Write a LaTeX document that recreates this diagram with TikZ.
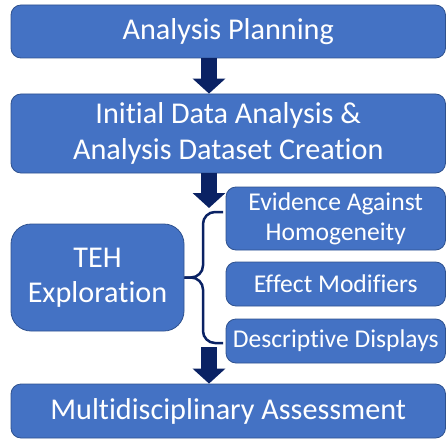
\documentclass[tikz,border=0pt]{standalone}
\usepackage{fontspec}
\setmainfont{Carlito}[Ligatures={NoCommon,NoRare}]
\usepackage{tikz}
\usepackage{xcolor}
\usetikzlibrary{arrows.meta}
\definecolor{boxblue}{HTML}{4472C4}
\definecolor{boxline}{HTML}{2F528F}
\definecolor{navy}{HTML}{0A2264}
\newcommand{\tsep}{t\kern0pt i}
\tikzstyle{box} = [rectangle, rounded corners=10pt, draw=boxline, line width=0.8pt, fill=boxblue, text=white, align=center, inner sep=0pt]
\tikzstyle{big} = [box, font=\fontsize{30.2}{36}\selectfont]
\tikzstyle{small} = [box, font=\fontsize{25.6}{30}\selectfont]

\begin{document}
\begin{tikzpicture}[x=1pt,y=-1pt]
			\tikzset{arr/.style={draw=navy, line width=16pt, -{Triangle[width=32pt,length=15pt]}},
				brace/.style={draw=navy, line width=2.5pt, rounded corners=12pt}}
\useasboundingbox (0,0) rectangle (446,441);

\node[big, minimum width=434.5pt, minimum height=53pt] (plan) at (228.25,31.5) {Analysis Planning};
\node[big, minimum width=434.5pt, minimum height=79pt] (ida) at (228.25,133.5) {Ini\tsep al Data Analysis \&\\Analysis Dataset Crea\tsep on};
\node[small, minimum width=219.5pt, minimum height=63pt] (evid) at (335.75,218.5) {Evidence Against\\Homogeneity};
\node[small, minimum width=219.5pt, minimum height=44pt] (effm) at (335.75,284) {Effect Modifiers};
\node[small, minimum width=219.5pt, minimum height=44pt] (desc) at (335.75,341) {Descrip\tsep ve Displays};
\node[big, rounded corners=20pt, minimum width=173pt, minimum height=107pt, font=\fontsize{30.2}{35}\selectfont] (teh) at (97.5,277.5) {TEH\\Explora\tsep on};
\node[big, minimum width=434.5pt, minimum height=54pt] (mda) at (228.25,411) {Multidisciplinary Assessment};

% arrows down the left column
\coordinate (ax) at (209,0);
\coordinate (a1s) at (plan.south -| ax);
\coordinate (a1e) at (ida.north -| ax);
\coordinate (a2s) at (ida.south -| ax);
\coordinate (a2e) at (209,208);
\coordinate (a3s) at (209,347);
\coordinate (a3e) at (mda.north -| ax);
\foreach \from/\to in {a1s/a1e,a2s/a2e,a3s/a3e}
{
	\draw[arr] (\from) -- (\to);
}

% brace
\coordinate (bx) at (203,0);
\coordinate (b1) at (223,212);
\coordinate (b2) at (223,343);
\draw[brace] (b1) -- (b1 -| bx) -- (teh.east -| bx) -- (teh.east);
\draw[brace] (b2) -- (b2 -| bx) -- (teh.east -| bx) -- (teh.east);

		\end{tikzpicture}
\end{document}
